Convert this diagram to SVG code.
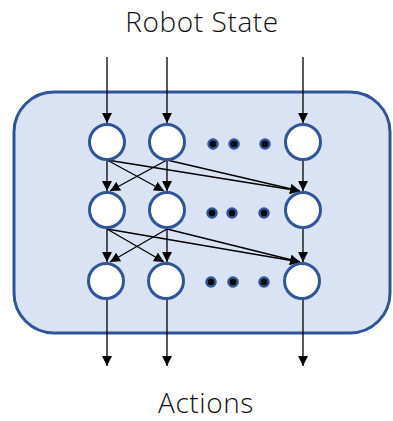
<svg xmlns="http://www.w3.org/2000/svg" width="393" height="421" viewBox="0 0 393 421">
  <style>
    .label { font-family: "Open Sans", "Noto Sans", "Liberation Sans", sans-serif; font-size: 28px; fill: #111111; text-anchor: middle; font-weight: 300; letter-spacing: 0.6px; }
    .node { fill: #ffffff; stroke: #2F5597; stroke-width: 3; }
    .dot { fill: #000000; stroke: #2F5597; stroke-width: 2.5; }
    .edge { stroke: #000000; stroke-width: 1.3; fill: none; marker-end: url(#arrow); }
  </style>
  <defs>
    <marker id="arrow" viewBox="0 0 10 10" refX="10" refY="5" markerWidth="10" markerHeight="10" markerUnits="userSpaceOnUse" orient="auto">
      <path d="M0,0 L10,5 L0,10 z" fill="#000000"/>
    </marker>
  </defs>

  <text class="label" x="202" y="32">Robot State</text>
  <text class="label" x="206" y="413">Actions</text>

  <!-- network container -->
  <g id="network">
    <rect x="14" y="92" width="376" height="241" rx="40" ry="40" fill="#DAE3F3" stroke="#2F5597" stroke-width="3"/>
  </g>

  <!-- connectors -->
  <g id="connectors">
    <!-- inputs -->
    <line class="edge" x1="107" y1="57" x2="107" y2="123"/>
    <line class="edge" x1="167" y1="57" x2="167" y2="123"/>
    <line class="edge" x1="303" y1="57" x2="303" y2="123"/>
    <!-- layer 1 to layer 2 -->
    <line class="edge" x1="107" y1="160" x2="107" y2="191"/>
    <line class="edge" x1="167" y1="160" x2="167" y2="191"/>
    <line class="edge" x1="303" y1="160" x2="303" y2="191"/>
    <line class="edge" x1="107" y1="160" x2="164" y2="191"/>
    <line class="edge" x1="167" y1="160" x2="110" y2="191"/>
    <line class="edge" x1="107" y1="160" x2="300" y2="191"/>
    <line class="edge" x1="167" y1="160" x2="300" y2="191"/>
    <!-- layer 2 to layer 3 -->
    <line class="edge" x1="107" y1="229" x2="107" y2="262"/>
    <line class="edge" x1="167" y1="229" x2="167" y2="262"/>
    <line class="edge" x1="303" y1="229" x2="303" y2="262"/>
    <line class="edge" x1="107" y1="229" x2="164" y2="262"/>
    <line class="edge" x1="167" y1="229" x2="110" y2="262"/>
    <line class="edge" x1="107" y1="229" x2="300" y2="262"/>
    <line class="edge" x1="167" y1="229" x2="300" y2="262"/>
    <!-- outputs -->
    <line class="edge" x1="107" y1="299" x2="107" y2="366"/>
    <line class="edge" x1="167" y1="299" x2="167" y2="366"/>
    <line class="edge" x1="303" y1="299" x2="303" y2="366"/>
  </g>

  <!-- layer 1 -->
  <g id="n11"><circle class="node" cx="107" cy="142" r="17.5"/></g>
  <g id="n12"><circle class="node" cx="167" cy="142" r="17.5"/></g>
  <g id="d1">
    <circle class="dot" cx="213" cy="144" r="4.5"/>
    <circle class="dot" cx="234" cy="144" r="4.5"/>
    <circle class="dot" cx="265" cy="144" r="4.5"/>
  </g>
  <g id="n13"><circle class="node" cx="303" cy="142" r="17.5"/></g>

  <!-- layer 2 -->
  <g id="n21"><circle class="node" cx="107" cy="210" r="17.5"/></g>
  <g id="n22"><circle class="node" cx="167" cy="210" r="17.5"/></g>
  <g id="d2">
    <circle class="dot" cx="212" cy="213" r="4.5"/>
    <circle class="dot" cx="232" cy="213" r="4.5"/>
    <circle class="dot" cx="264" cy="213" r="4.5"/>
  </g>
  <g id="n23"><circle class="node" cx="303" cy="210" r="17.5"/></g>

  <!-- layer 3 -->
  <g id="n31"><circle class="node" cx="106" cy="281" r="17.5"/></g>
  <g id="n32"><circle class="node" cx="166" cy="281" r="17.5"/></g>
  <g id="d3">
    <circle class="dot" cx="211" cy="282" r="4.5"/>
    <circle class="dot" cx="233" cy="282" r="4.5"/>
    <circle class="dot" cx="264" cy="282" r="4.5"/>
  </g>
  <g id="n33"><circle class="node" cx="302" cy="281" r="17.5"/></g>
</svg>
